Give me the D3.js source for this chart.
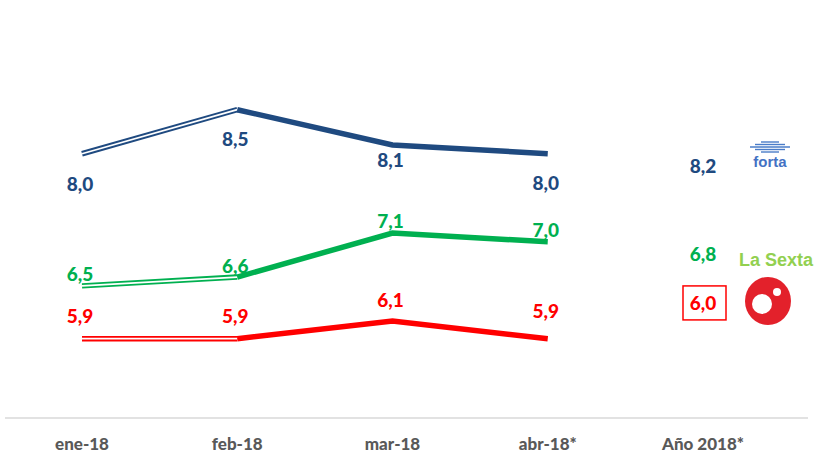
<!DOCTYPE html>
<html>
<head>
<meta charset="utf-8">
<script src="https://cdn.jsdelivr.net/npm/d3@7"></script>
<style>
  body { margin: 0; background: #fff; }
  text { font-family: Lato, "Open Sans", sans-serif; font-weight: 900; }
</style>
</head>
<body>
<svg id="chart" width="821" height="455"></svg>
<script>
// categories and values
const categories = ['ene-18', 'feb-18', 'mar-18', 'abr-18*', 'Año 2018*'];
const months = ['ene-18', 'feb-18', 'mar-18', 'abr-18*'];
const fortaValues = [8.0, 8.5, 8.1, 8.0];
const sextaValues = [6.5, 6.6, 7.1, 7.0];
const redValues = [5.9, 5.9, 6.1, 5.9];
const yearValues = [8.2, 6.8, 6.0]; // forta, La Sexta green, red

const fmt = v => d3.format('.1f')(v).replace('.', ',');

const svg = d3.select('#chart');

const x = d3.scalePoint().domain(categories).range([82, 703]);
const y = d3.scaleLinear().domain([5, 9.7]).range([418, 4]);

// base axis line
svg.append('line')
  .attr('x1', 5).attr('x2', 808)
  .attr('y1', y(5)).attr('y2', y(5))
  .attr('stroke', '#d9d9d9').attr('stroke-width', 1.5);

svg.selectAll('.cat')
  .data(categories)
  .enter().append('text')
  .attr('x', d => x(d))
  .attr('y', 450)
  .attr('text-anchor', 'middle')
  .attr('font-size', 17)
  .attr('fill', '#595959')
  .text(d => d);

const series = [
  { values: fortaValues, color: '#1f4a80', dy: [37, 36, 22, 36], yearDy: 37 },
  { values: sextaValues, color: '#00b050', dy: [-5, -4, -5, -5], yearDy: 2 },
  { values: redValues, color: '#ff0000', dy: [-16, -16, -14, -21], yearDy: -20 }
];

const line = d3.line().x(d => x(d.m)).y(d => y(d.v));

series.forEach((s, i) => {
  const pts = months.map((m, j) => ({ m: m, v: s.values[j] }));
  const first = pts.slice(0, 2);
  const rest = pts.slice(1);

  // hollow (double) segment ene -> feb
  svg.append('path')
    .attr('d', line(first))
    .attr('fill', 'none')
    .attr('stroke', s.color)
    .attr('stroke-width', 5.5);
  svg.append('path')
    .attr('d', line(first))
    .attr('fill', 'none')
    .attr('stroke', '#fff')
    .attr('stroke-width', 1.8);

  // solid thick segment feb -> abr
  svg.append('path')
    .attr('d', line(rest))
    .attr('fill', 'none')
    .attr('stroke', s.color)
    .attr('stroke-width', 5.5);

  svg.selectAll('.lbl' + i)
    .data(pts)
    .enter().append('text')
    .attr('x', d => x(d.m) - 2)
    .attr('y', (d, j) => y(d.v) + s.dy[j])
    .attr('text-anchor', 'middle')
    .attr('font-size', 19)
    .attr('fill', s.color)
    .text(d => fmt(d.v));

  // year average
  const yx = x('Año 2018*');
  const yy = y(yearValues[i]) + s.yearDy;
  svg.append('text')
    .attr('x', yx)
    .attr('y', yy)
    .attr('text-anchor', 'middle')
    .attr('font-size', 19)
    .attr('fill', s.color)
    .text(fmt(yearValues[i]));
  if (i === 2) {
    svg.append('rect')
      .attr('x', yx - 20).attr('y', yy - 24)
      .attr('width', 43).attr('height', 34)
      .attr('fill', 'none')
      .attr('stroke', s.color)
      .attr('stroke-width', 1.5);
  }
});

// forta logo
const forta = svg.append('g').attr('transform', 'translate(770,0)');
[[142, 18], [144.5, 30], [147, 40], [149.5, 30], [152, 18]].forEach(st => {
  forta.append('line')
    .attr('x1', -st[1] / 2).attr('x2', st[1] / 2)
    .attr('y1', st[0]).attr('y2', st[0])
    .attr('stroke', '#4a7cc8').attr('stroke-width', 1.4);
});
forta.append('text')
  .attr('x', 0).attr('y', 167)
  .attr('text-anchor', 'middle')
  .attr('font-size', 15)
  .style('font-family', '"Liberation Sans", Arial, sans-serif')
  .style('font-weight', 'bold')
  .attr('fill', '#4472c4')
  .text('forta');

// La Sexta label and logo
svg.append('text')
  .attr('x', 776).attr('y', 266)
  .attr('text-anchor', 'middle')
  .attr('font-size', 18)
  .style('font-family', '"Liberation Sans", Arial, sans-serif')
  .style('font-weight', 'bold')
  .attr('fill', '#92d050')
  .text('La Sexta');

const logo = svg.append('g');
logo.append('ellipse')
  .attr('cx', 768).attr('cy', 301).attr('rx', 23).attr('ry', 24)
  .attr('fill', '#e3212b');
logo.append('circle')
  .attr('cx', 762).attr('cy', 304).attr('r', 10)
  .attr('fill', '#fff');
logo.append('circle')
  .attr('cx', 777).attr('cy', 292).attr('r', 4)
  .attr('fill', '#fff');
</script>
</body>
</html>
